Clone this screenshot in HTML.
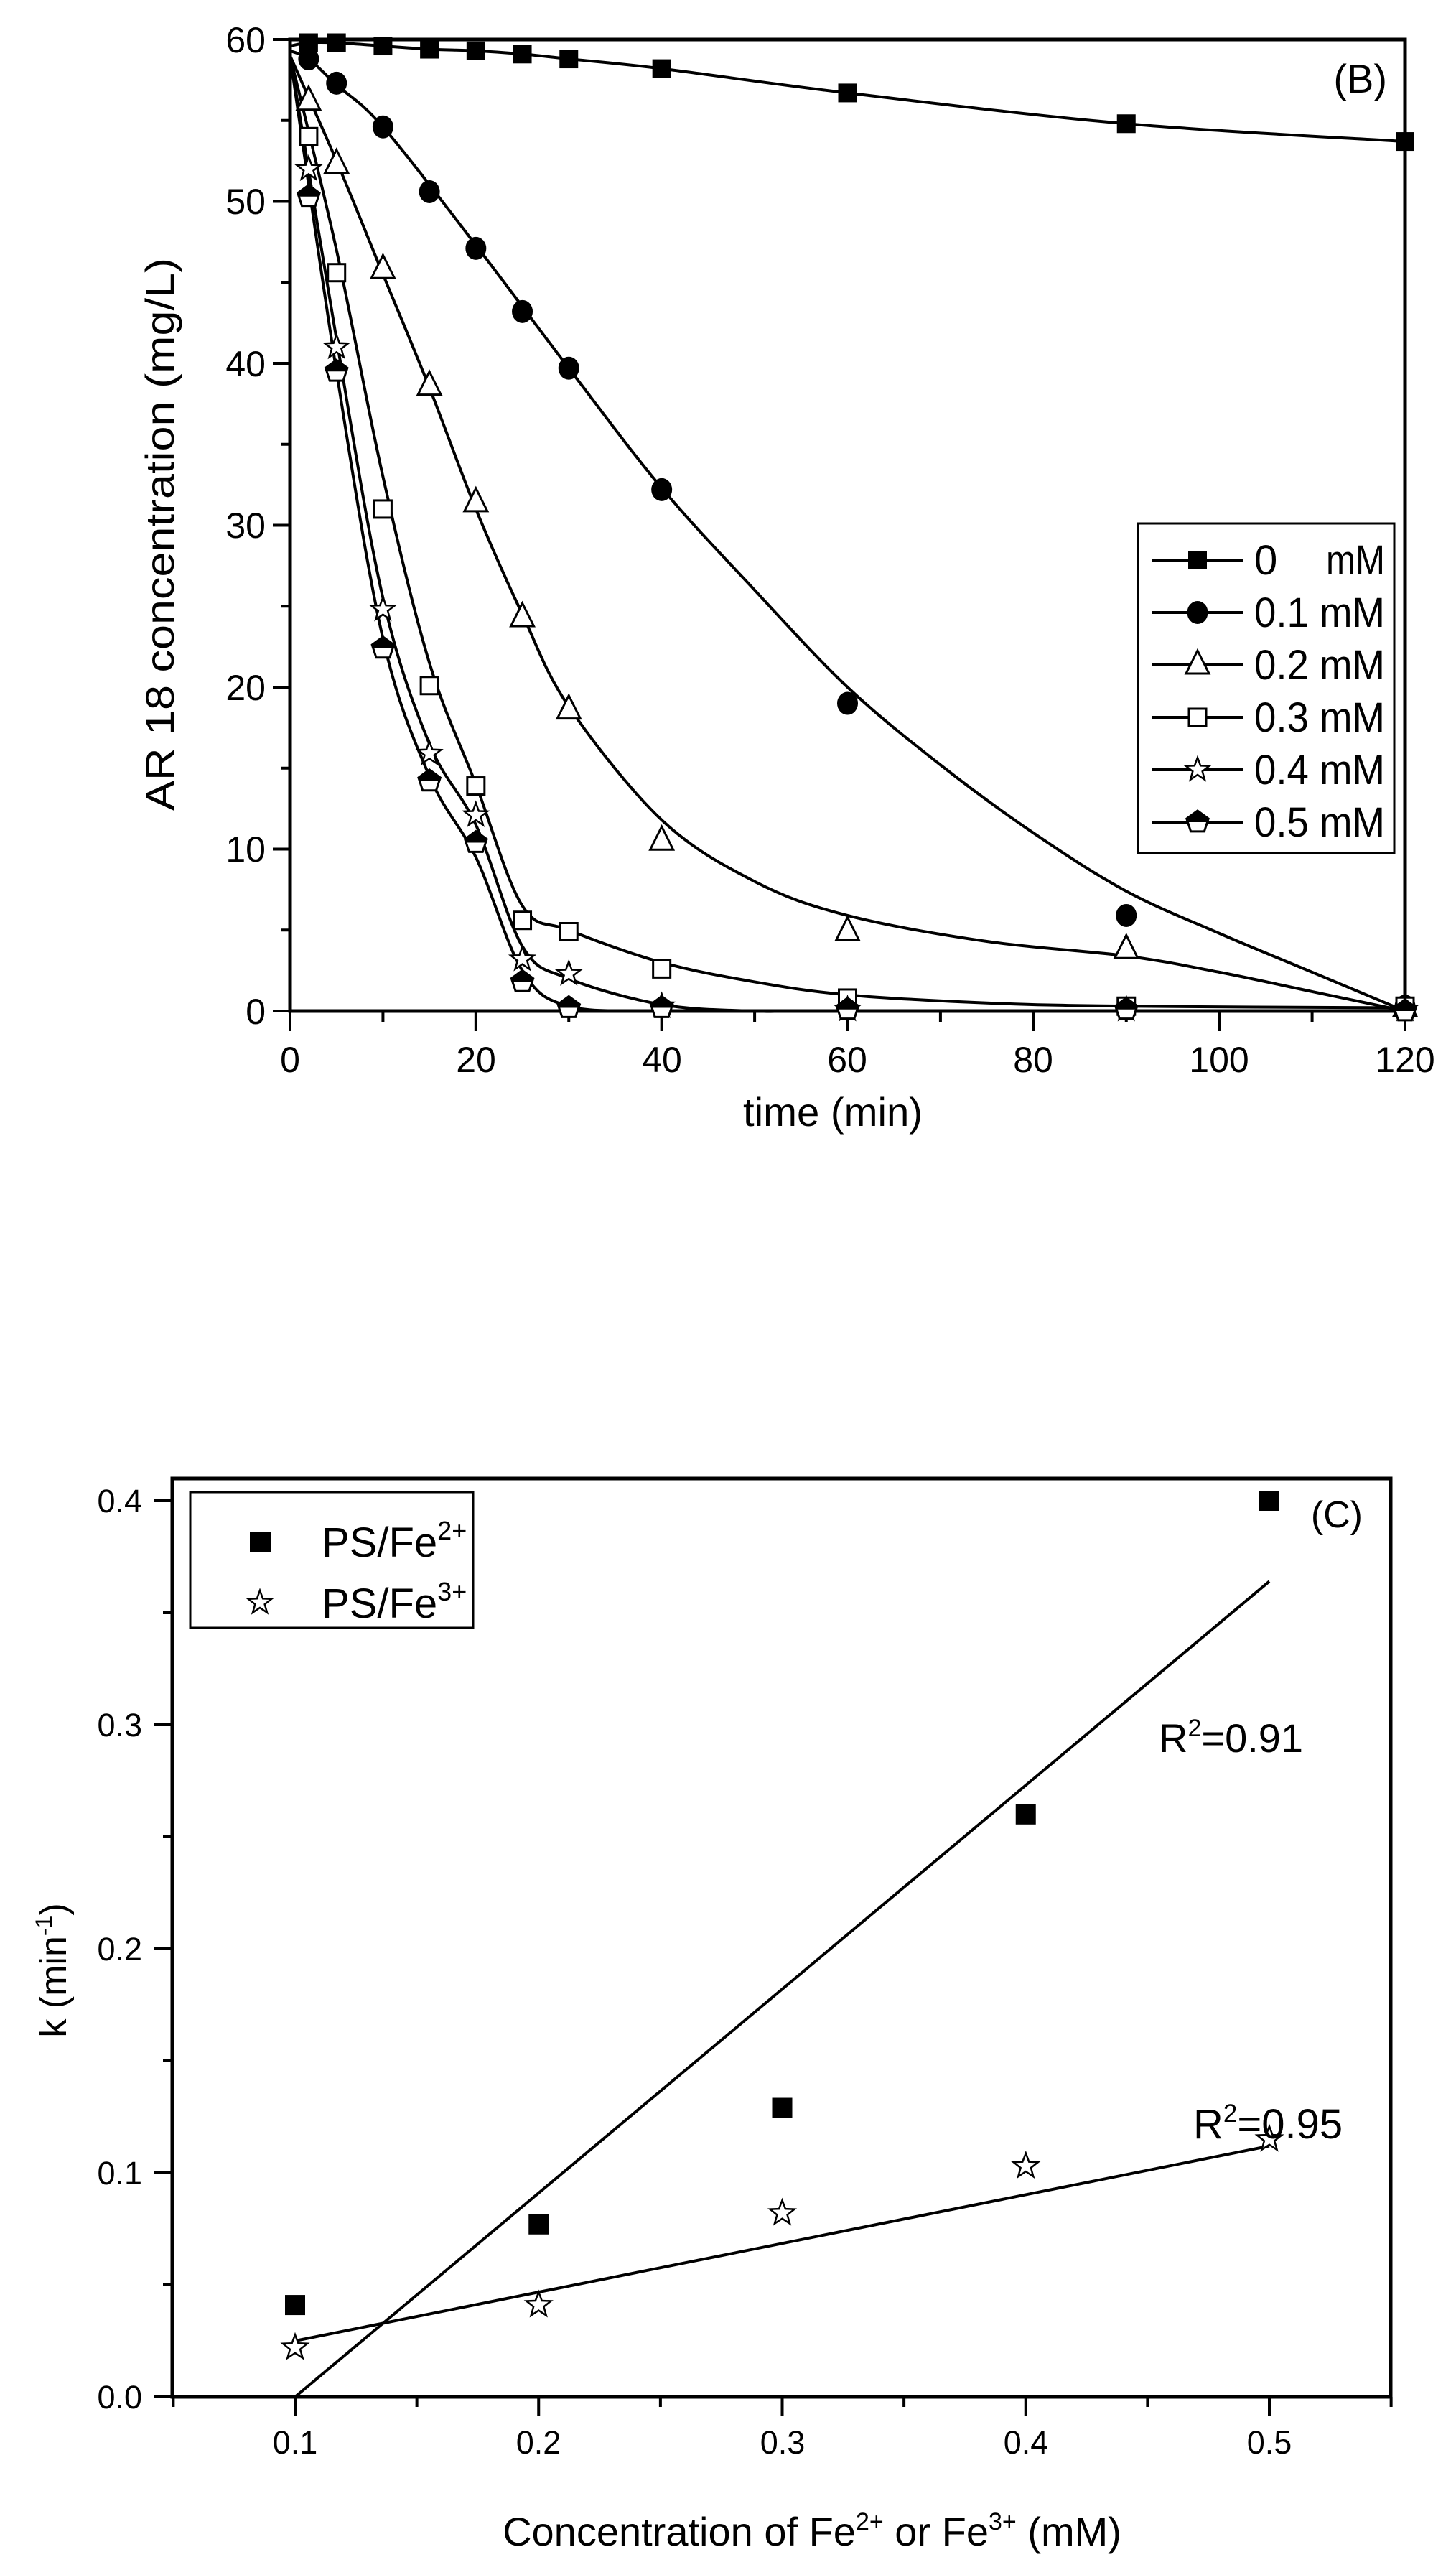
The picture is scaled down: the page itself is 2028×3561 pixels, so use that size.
<!DOCTYPE html>
<html><head><meta charset="utf-8"><style>
html,body{margin:0;padding:0;background:#fff;}
svg{display:block;}
text{font-family:"Liberation Sans",Arial,sans-serif;fill:#000;}
</style></head><body>
<svg id="s" width="2028" height="3561" viewBox="0 0 2028 3561" xmlns="http://www.w3.org/2000/svg">
<rect width="2028" height="3561" fill="#fff"/>
<g id="B"></g>
<g id="C"></g>
<g font-size="50">
<text x="370" y="1426" text-anchor="end">0</text>
<text x="370" y="1200" text-anchor="end">10</text>
<text x="370" y="975" text-anchor="end">20</text>
<text x="370" y="749" text-anchor="end">30</text>
<text x="370" y="524" text-anchor="end">40</text>
<text x="370" y="298" text-anchor="end">50</text>
<text x="370" y="73" text-anchor="end">60</text>
<text x="404" y="1493" text-anchor="middle">0</text>
<text x="663" y="1493" text-anchor="middle">20</text>
<text x="922" y="1493" text-anchor="middle">40</text>
<text x="1180" y="1493" text-anchor="middle">60</text>
<text x="1439" y="1493" text-anchor="middle">80</text>
<text x="1698" y="1493" text-anchor="middle">100</text>
<text x="1957" y="1493" text-anchor="middle">120</text>
</g>
<text x="1160" y="1568" font-size="56" text-anchor="middle" textLength="250" lengthAdjust="spacingAndGlyphs">time (min)</text>
<text transform="translate(242,744) rotate(-90)" font-size="56" text-anchor="middle" textLength="770" lengthAdjust="spacingAndGlyphs">AR 18 concentration (mg/L)</text>
<text x="1932" y="129" font-size="56" text-anchor="end">(B)</text>
<g font-size="58">
<text x="1747" y="800">0</text>
<text x="1929" y="800" text-anchor="end" textLength="82" lengthAdjust="spacingAndGlyphs">mM</text>
<text x="1747" y="873" textLength="182" lengthAdjust="spacingAndGlyphs">0.1 mM</text>
<text x="1747" y="946" textLength="182" lengthAdjust="spacingAndGlyphs">0.2 mM</text>
<text x="1747" y="1019" textLength="182" lengthAdjust="spacingAndGlyphs">0.3 mM</text>
<text x="1747" y="1092" textLength="182" lengthAdjust="spacingAndGlyphs">0.4 mM</text>
<text x="1747" y="1165" textLength="182" lengthAdjust="spacingAndGlyphs">0.5 mM</text>
</g>
<g font-size="45">
<text x="198" y="3354" text-anchor="end">0.0</text>
<text x="198" y="3042" text-anchor="end">0.1</text>
<text x="198" y="2730" text-anchor="end">0.2</text>
<text x="198" y="2418" text-anchor="end">0.3</text>
<text x="198" y="2106" text-anchor="end">0.4</text>
<text x="411" y="3417" text-anchor="middle">0.1</text>
<text x="750" y="3417" text-anchor="middle">0.2</text>
<text x="1090" y="3417" text-anchor="middle">0.3</text>
<text x="1429" y="3417" text-anchor="middle">0.4</text>
<text x="1768" y="3417" text-anchor="middle">0.5</text>
</g>
<text x="1131" y="3545" font-size="56" text-anchor="middle">Concentration of Fe<tspan font-size="34" dy="-22">2+</tspan><tspan dy="22"> or Fe</tspan><tspan font-size="34" dy="-22">3+</tspan><tspan dy="22"> (mM)</tspan></text>
<text transform="translate(92,2744) rotate(-90)" font-size="52" text-anchor="middle">k (min<tspan font-size="32" dy="-20">-1</tspan><tspan dy="20">)</tspan></text>
<text x="1898" y="2127" font-size="52" text-anchor="end">(C)</text>
<text x="1614" y="2440" font-size="56">R<tspan font-size="34" dy="-22">2</tspan><tspan dy="22">=0.91</tspan></text>
<text x="1662" y="2978" font-size="58">R<tspan font-size="35" dy="-23">2</tspan><tspan dy="23">=0.95</tspan></text>
<g font-size="58">
<text x="448" y="2168">PS/Fe<tspan font-size="36" dy="-24">2+</tspan></text>
<text x="448" y="2253">PS/Fe<tspan font-size="36" dy="-24">3+</tspan></text>
</g>
</svg>
<script>
var NS="http://www.w3.org/2000/svg";
function el(p,t,a){var e=document.createElementNS(NS,t);for(var k in a)e.setAttribute(k,a[k]);p.appendChild(e);return e;}
var B=document.getElementById("B"),C=document.getElementById("C");
function bx(t){return 404+t*(1553/120);} function by(v){return 1408-v*(1353/60);}
el(B,"rect",{x:404,y:55,width:1553,height:1353,fill:"none",stroke:"#000","stroke-width":5});
for(var t=0;t<=120;t+=10){var maj=t%20==0;el(B,"line",{x1:bx(t),y1:1408,x2:bx(t),y2:1408+(maj?28:15),stroke:"#000","stroke-width":4});}
for(var v=0;v<=60;v+=5){var maj=v%10==0;el(B,"line",{x1:404,y1:by(v),x2:404-(maj?24:12),y2:by(v),stroke:"#000","stroke-width":4});}
function cr(pts,fx,fy){var P=pts.map(function(p){return[fx(p[0]),fy(p[1])];});var d="M"+P[0][0]+","+P[0][1];
for(var i=0;i<P.length-1;i++){var p0=P[i-1]||P[i],p1=P[i],p2=P[i+1],p3=P[i+2]||P[i+1];
var c1=[p1[0]+(p2[0]-p0[0])/6,p1[1]+(p2[1]-p0[1])/6],c2=[p2[0]-(p3[0]-p1[0])/6,p2[1]-(p3[1]-p1[1])/6];
d+=" C"+c1[0]+","+c1[1]+" "+c2[0]+","+c2[1]+" "+p2[0]+","+p2[1];}return d;}
var curves=[
[[0,59.6],[2,59.8],[5,59.8],[10,59.6],[15,59.4],[20,59.3],[25,59.1],[30,58.8],[40,58.2],[60,56.7],[90,54.8],[120,53.7]],
[[0,59.3],[2,58.8],[5,57.2],[10,54.6],[20,47.3],[30,39.7],[40,32.3],[50,26],[60,20],[70,15.2],[80,11],[90,7.4],[100,4.8],[110,2.4],[120,0]],
[[0,59],[5,52.5],[10,45.5],[15,38.5],[20,31],[25,24.5],[30,18.8],[40,11.8],[50,8],[60,5.9],[75,4.3],[90,3.4],[100,2.4],[110,1.2],[120,0]],
[[0,59],[5,47],[10,33],[15,21.5],[20,14],[25,6.5],[30,5],[40,3],[50,1.8],[60,1],[75,0.5],[90,0.3],[120,0.2]],
[[0,59],[5,41.5],[10,25.5],[15,16.5],[20,11.5],[25,4],[30,2],[40,0.4],[50,0],[60,0],[120,0]],
[[0,59],[5,39.5],[10,23],[15,14.5],[20,9.5],[25,2.5],[30,0.3],[40,0],[50,0],[120,0]]];
curves.forEach(function(c){el(B,"path",{d:cr(c,bx,by),fill:"none",stroke:"#000","stroke-width":4});});
var T=[0,2,5,10,15,20,25,30,40,60,90,120];
var pts=[[59.5,59.8,59.8,59.6,59.4,59.3,59.1,58.8,58.2,56.7,54.8,53.7],
[59,58.8,57.3,54.6,50.6,47.1,43.2,39.7,32.2,19,5.9,0.3],
[59,56.2,52.3,45.8,38.6,31.4,24.3,18.6,10.5,4.9,3.8,0.2],
[59,54,45.6,31,20.1,13.9,5.6,4.9,2.6,0.8,0.3,0.3],
[59,52,41,24.8,15.9,12.1,3.2,2.3,0.3,0.1,0.1,0.1],
[59,50.3,39.5,22.4,14.2,10.4,1.8,0.2,0.2,0.1,0.1,0]];
function star(x,y,R,r){var s="";for(var i=0;i<10;i++){var a=-Math.PI/2+i*Math.PI/5,rr=i%2?r:R;s+=(x+rr*Math.cos(a)).toFixed(1)+","+(y+rr*Math.sin(a)).toFixed(1)+" ";}return s;}
function marker(g,k,x,y){
if(k==0)el(g,"rect",{x:x-13,y:y-13,width:26,height:26,fill:"#000"});
else if(k==1)el(g,"ellipse",{cx:x,cy:y,rx:14.5,ry:16,fill:"#000"});
else if(k==2)el(g,"polygon",{points:(x)+","+(y-20)+" "+(x+16)+","+(y+12)+" "+(x-16)+","+(y+12),fill:"#fff",stroke:"#000","stroke-width":3});
else if(k==3)el(g,"rect",{x:x-12,y:y-12,width:24,height:24,fill:"#fff",stroke:"#000","stroke-width":3});
else if(k==4)el(g,"polygon",{points:star(x,y,17,7),fill:"#fff",stroke:"#000","stroke-width":2.5});
else{el(g,"polygon",{points:(x)+","+(y-16)+" "+(x+15.2)+","+(y-4.9)+" "+(x+9.4)+","+(y+12.9)+" "+(x-9.4)+","+(y+12.9)+" "+(x-15.2)+","+(y-4.9),fill:"#fff",stroke:"#000","stroke-width":3});
el(g,"polygon",{points:(x)+","+(y-16)+" "+(x+15.2)+","+(y-4.9)+" "+(x+13.6)+","+(y)+" "+(x-13.6)+","+(y)+" "+(x-15.2)+","+(y-4.9),fill:"#000"});}}
pts.forEach(function(s,k){s.forEach(function(v,i){if(T[i]==0)return;marker(B,k,bx(T[i]),by(v));});});
el(B,"rect",{x:1585,y:729,width:357,height:459,fill:"#fff",stroke:"#000","stroke-width":3});
for(var k=0;k<6;k++){var yy=780+k*73;el(B,"line",{x1:1605,y1:yy,x2:1731,y2:yy,stroke:"#000","stroke-width":4});marker(B,k,1668,yy);}
function cx(v){return 411+(v-0.1)*3392.5;} function cy(v){return 3338-v*3120;}
el(C,"rect",{x:240,y:2059,width:1697,height:1279,fill:"none",stroke:"#000","stroke-width":5});
for(var i=0;i<=10;i++){var v=0.05+i*0.05;var maj=(i%2==1);el(C,"line",{x1:cx(v),y1:3338,x2:cx(v),y2:3338+(maj?27:14),stroke:"#000","stroke-width":4});}
for(var i=0;i<=8;i++){var v=i*0.05;var maj=i%2==0;el(C,"line",{x1:240,y1:cy(v),x2:240-(maj?26:13),y2:cy(v),stroke:"#000","stroke-width":4});}
el(C,"line",{x1:cx(0.1),y1:cy(0),x2:cx(0.5),y2:cy(0.364),stroke:"#000","stroke-width":4});
el(C,"line",{x1:cx(0.1),y1:cy(0.025),x2:cx(0.5),y2:cy(0.112),stroke:"#000","stroke-width":4});
var X=[0.1,0.2,0.3,0.4,0.5],S=[0.041,0.077,0.129,0.26,0.40],St=[0.022,0.041,0.082,0.103,0.115];
X.forEach(function(x,i){el(C,"rect",{x:cx(x)-14,y:cy(S[i])-14,width:28,height:28,fill:"#000"});
el(C,"polygon",{points:star(cx(x),cy(St[i]),18,7.5),fill:"#fff",stroke:"#000","stroke-width":2.5});});
el(C,"rect",{x:265,y:2078,width:394,height:189,fill:"#fff",stroke:"#000","stroke-width":3});
el(C,"rect",{x:348,y:2133,width:29,height:29,fill:"#000"});
el(C,"polygon",{points:star(362,2232,17,7),fill:"#fff",stroke:"#000","stroke-width":2.5});
</script>
</body></html>
